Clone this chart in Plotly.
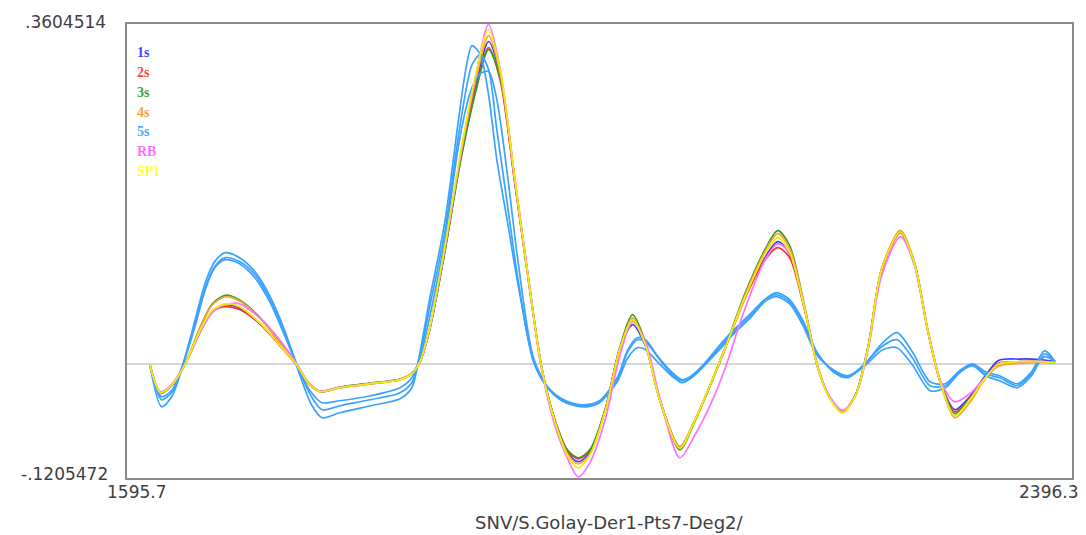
import plotly.graph_objects as go

# ---------------- data ----------------
x_min, x_max = 1595.7, 2396.3
y_min, y_max = -0.1205472, 0.3604514
x_title = "SNV/S.Golay-Der1-Pts7-Deg2/"

groups = ["1s", "2s", "3s", "4s", "5s", "RB", "SP1"]
legend_colors = ["#4646ff", "#ff4646", "#38a838", "#ffa040", "#46aaff", "#ff6cff", "#ffff30"]
line_colors = ["#3c3cff", "#ff3030", "#2e9e2e", "#ffa030", "#3aa2ff", "#ff70ff", "#f2ee00"]

wl = [1615, 1624, 1634, 1645, 1658, 1668, 1679, 1691, 1708, 1725,
      1740, 1749, 1759, 1776, 1802, 1827, 1837, 1844, 1852, 1865,
      1878, 1891, 1902, 1912, 1924, 1937, 1947, 1958, 1969, 1978,
      1988, 2001, 2013, 2024, 2035, 2047, 2064, 2077, 2090, 2102,
      2119, 2136, 2147, 2157, 2170, 2181, 2191, 2202, 2213, 2224,
      2235, 2251, 2263, 2274, 2285, 2297, 2310, 2323, 2334, 2352,
      2369, 2382]

s_1s = [0.0000, -0.0302, -0.0217, 0.0000, 0.0350, 0.0560, 0.0630, 0.0595, 0.0435, 0.0207,
        -0.0016, -0.0196, -0.0292, -0.0249, -0.0207, -0.0164, -0.0101, 0.0027, 0.0366, 0.1214,
        0.2168, 0.2950, 0.3419, 0.3050, 0.1956, 0.0790, -0.0037, -0.0588, -0.0935, -0.1033,
        -0.0935, -0.0482, 0.0154, 0.0420, 0.0190, -0.0376, -0.0875, -0.0588, -0.0217, 0.0154,
        0.0705, 0.1130, 0.1299, 0.1170, 0.0578, -0.0037, -0.0355, -0.0504, -0.0323, 0.0207,
        0.1002, 0.1394, 0.1055, 0.0366, -0.0196, -0.0482, -0.0340, -0.0120, 0.0040, 0.0055,
        0.0050, 0.0030]

s_2s = [0.0000, -0.0295, -0.0212, 0.0005, 0.0355, 0.0555, 0.0610, 0.0580, 0.0430, 0.0200,
        -0.0020, -0.0200, -0.0288, -0.0245, -0.0203, -0.0160, -0.0098, 0.0030, 0.0360, 0.1200,
        0.2150, 0.2900, 0.3355, 0.3000, 0.1940, 0.0780, -0.0040, -0.0585, -0.0920, -0.1002,
        -0.0915, -0.0475, 0.0160, 0.0470, 0.0215, -0.0370, -0.0880, -0.0590, -0.0220, 0.0150,
        0.0690, 0.1100, 0.1235, 0.1130, 0.0560, -0.0040, -0.0350, -0.0500, -0.0320, 0.0210,
        0.1000, 0.1390, 0.1050, 0.0360, -0.0200, -0.0504, -0.0355, -0.0140, 0.0010, 0.0020,
        0.0030, 0.0020]

s_3s = [0.0000, -0.0310, -0.0220, 0.0000, 0.0400, 0.0640, 0.0731, 0.0680, 0.0500, 0.0240,
        -0.0010, -0.0190, -0.0285, -0.0242, -0.0200, -0.0158, -0.0095, 0.0030, 0.0360, 0.1190,
        0.2130, 0.2880, 0.3334, 0.3030, 0.1980, 0.0800, -0.0030, -0.0580, -0.0910, -0.0991,
        -0.0905, -0.0470, 0.0170, 0.0525, 0.0230, -0.0380, -0.0906, -0.0600, -0.0215, 0.0160,
        0.0740, 0.1210, 0.1415, 0.1260, 0.0600, -0.0030, -0.0350, -0.0504, -0.0320, 0.0215,
        0.1010, 0.1415, 0.1070, 0.0370, -0.0190, -0.0525, -0.0360, -0.0143, 0.0000, 0.0027,
        0.0027, 0.0016]

s_4s = [0.0000, -0.0305, -0.0215, 0.0003, 0.0395, 0.0630, 0.0715, 0.0670, 0.0490, 0.0230,
        -0.0012, -0.0195, -0.0290, -0.0250, -0.0210, -0.0165, -0.0100, 0.0025, 0.0370, 0.1230,
        0.2190, 0.3000, 0.3482, 0.3070, 0.1970, 0.0790, -0.0040, -0.0595, -0.0950, -0.1055,
        -0.0950, -0.0490, 0.0150, 0.0493, 0.0210, -0.0380, -0.0880, -0.0585, -0.0210, 0.0160,
        0.0720, 0.1190, 0.1383, 0.1230, 0.0590, -0.0040, -0.0360, -0.0515, -0.0330, 0.0200,
        0.1010, 0.1415, 0.1060, 0.0360, -0.0210, -0.0567, -0.0400, -0.0150, -0.0020, 0.0010,
        0.0020, 0.0020]

s_rb = [0.0000, -0.0290, -0.0210, 0.0000, 0.0350, 0.0550, 0.0630, 0.0640, 0.0493, 0.0260,
        -0.0005, -0.0190, -0.0285, -0.0245, -0.0205, -0.0162, -0.0100, 0.0027, 0.0370, 0.1230,
        0.2200, 0.3050, 0.3599, 0.3120, 0.2000, 0.0800, -0.0060, -0.0640, -0.1000, -0.1193,
        -0.1040, -0.0580, 0.0080, 0.0450, 0.0240, -0.0350, -0.0991, -0.0747, -0.0429, -0.0058,
        0.0580, 0.1100, 0.1277, 0.1180, 0.0580, -0.0037, -0.0340, -0.0490, -0.0330, 0.0180,
        0.0940, 0.1352, 0.1040, 0.0370, -0.0180, -0.0398, -0.0310, -0.0140, 0.0000, 0.0027,
        0.0027, 0.0016]

s_sp1 = [0.0000, -0.0300, -0.0215, 0.0000, 0.0370, 0.0570, 0.0640, 0.0610, 0.0440, 0.0205,
         -0.0016, -0.0196, -0.0290, -0.0248, -0.0206, -0.0163, -0.0101, 0.0030, 0.0380, 0.1250,
         0.2220, 0.3060, 0.3546, 0.3110, 0.1990, 0.0790, -0.0040, -0.0600, -0.0970, -0.1097,
         -0.0960, -0.0490, 0.0150, 0.0470, 0.0200, -0.0380, -0.0890, -0.0590, -0.0215, 0.0155,
         0.0700, 0.1160, 0.1341, 0.1190, 0.0575, -0.0040, -0.0360, -0.0510, -0.0325, 0.0205,
         0.1005, 0.1400, 0.1060, 0.0365, -0.0200, -0.0546, -0.0370, -0.0145, 0.0000, 0.0027,
         0.0027, 0.0016]

wl_5s = [1615, 1625, 1634, 1642, 1653, 1662, 1670, 1679, 1691, 1704,
         1717, 1730, 1742, 1752, 1761, 1776, 1802, 1827, 1837, 1844,
         1852, 1865, 1876, 1883, 1888, 1895, 1902, 1909, 1918, 1927,
         1940, 1952, 1964, 1975, 1985, 1996, 2011, 2020, 2028, 2035,
         2045, 2057, 2066, 2074, 2084, 2096, 2109, 2124, 2136, 2146,
         2157, 2168, 2180, 2194, 2206, 2219, 2236, 2248, 2261, 2276,
         2289, 2301, 2312, 2323, 2335, 2350, 2362, 2373, 2382]

s_5s_a = [0.0000, -0.0451, -0.0334, -0.0058, 0.0451, 0.0864, 0.1087, 0.1182, 0.1129, 0.0981,
          0.0716, 0.0334, -0.0111, -0.0429, -0.0567, -0.0514, -0.0440, -0.0366, -0.0249, 0.0133,
          0.0684, 0.1511, 0.2539, 0.3143, 0.3376, 0.3281, 0.2857, 0.2168, 0.1511, 0.0843,
          0.0048, -0.0249, -0.0376, -0.0429, -0.0440, -0.0398, -0.0164, 0.0133, 0.0260, 0.0239,
          0.0080, -0.0101, -0.0175, -0.0133, -0.0016, 0.0154, 0.0334, 0.0514, 0.0684, 0.0758,
          0.0684, 0.0472, 0.0133, -0.0080, -0.0143, -0.0027, 0.0228, 0.0334, 0.0133, -0.0186,
          -0.0207, -0.0069, 0.0005, -0.0080, -0.0122, -0.0207, -0.0080, 0.0143, 0.0027]

s_5s_b = [0.0000, -0.0345, -0.0270, -0.0037, 0.0419, 0.0811, 0.1034, 0.1129, 0.1087, 0.0949,
          0.0684, 0.0313, -0.0080, -0.0345, -0.0482, -0.0440, -0.0376, -0.0302, -0.0196, 0.0101,
          0.0599, 0.1405, 0.2380, 0.2910, 0.3175, 0.3281, 0.3122, 0.2486, 0.1691, 0.0896,
          0.0027, -0.0249, -0.0387, -0.0440, -0.0451, -0.0408, -0.0186, 0.0069, 0.0175, 0.0154,
          0.0027, -0.0122, -0.0196, -0.0143, -0.0027, 0.0133, 0.0313, 0.0493, 0.0663, 0.0716,
          0.0641, 0.0419, 0.0101, -0.0058, -0.0122, -0.0037, 0.0154, 0.0175, -0.0005, -0.0281,
          -0.0249, -0.0090, -0.0016, -0.0122, -0.0175, -0.0249, -0.0122, 0.0111, 0.0027]

s_5s_c = [0.0000, -0.0376, -0.0292, -0.0048, 0.0387, 0.0790, 0.1023, 0.1108, 0.1065, 0.0917,
          0.0652, 0.0281, -0.0080, -0.0302, -0.0408, -0.0387, -0.0334, -0.0249, -0.0143, 0.0069,
          0.0493, 0.1320, 0.2274, 0.2719, 0.2931, 0.3079, 0.3101, 0.2804, 0.2009, 0.1087,
          0.0069, -0.0239, -0.0366, -0.0419, -0.0429, -0.0387, -0.0143, 0.0154, 0.0281, 0.0260,
          0.0090, -0.0080, -0.0164, -0.0122, -0.0005, 0.0175, 0.0355, 0.0535, 0.0684, 0.0737,
          0.0663, 0.0451, 0.0111, -0.0069, -0.0133, -0.0016, 0.0196, 0.0260, 0.0069, -0.0228,
          -0.0228, -0.0080, -0.0005, -0.0101, -0.0143, -0.0228, -0.0101, 0.0080, 0.0027]

series = [
    ("1s", wl, s_1s),
    ("2s", wl, s_2s),
    ("3s", wl, s_3s),
    ("4s", wl, s_4s),
    ("5s", wl_5s, s_5s_a),
    ("5s", wl_5s, s_5s_b),
    ("5s", wl_5s, s_5s_c),
    ("RB", wl, s_rb),
    ("SP1", wl, s_sp1),
]

# ---------------- figure ----------------
fig = go.Figure()
for name, xs, ys in series:
    c = line_colors[groups.index(name)]
    fig.add_trace(go.Scatter(
        x=xs, y=ys, mode="lines", name=name, showlegend=False,
        line=dict(color=c, width=1.7, shape="spline", smoothing=0.8),
        hoverinfo="skip",
    ))

# page body has an 8px margin, so the figure is sized/offset accordingly
W, H = 1078, 527
L, R, T, B = 119, 14, 16, 57
pw, ph = W - L - R, H - T - B

def fmt_y(v):
    s = f"{v:.7f}"
    return s.replace("0.", ".", 1)

lab_font = dict(family="DejaVu Sans", size=17, color="#404040")
ann = [
    dict(text=fmt_y(y_max), xref="paper", yref="paper", x=-19 / pw, y=1 + 2 / ph,
         xanchor="right", yanchor="middle", showarrow=False, font=lab_font),
    dict(text=fmt_y(y_min), xref="paper", yref="paper", x=-17 / pw, y=1 - 450 / ph,
         xanchor="right", yanchor="middle", showarrow=False, font=lab_font),
    dict(text=f"{x_min:.1f}", xref="paper", yref="paper", x=9 / pw, y=1 - 468 / ph,
         xanchor="center", yanchor="middle", showarrow=False, font=lab_font),
    dict(text=f"{x_max:.1f}", xref="paper", yref="paper", x=1 + 8 / pw, y=1 - 468 / ph,
         xanchor="right", yanchor="middle", showarrow=False, font=lab_font),
    dict(text=x_title, xref="paper", yref="paper", x=0.511, y=1 - 498 / ph,
         xanchor="center", yanchor="middle", showarrow=False,
         font=dict(family="DejaVu Sans", size=18, color="#404040")),
]
for i, g in enumerate(groups):
    ann.append(dict(text=f"<b>{g}</b>", xref="paper", yref="paper",
                    x=8 / pw, y=1 - (29 + 19.7 * i) / ph,
                    xanchor="left", yanchor="middle", showarrow=False,
                    font=dict(family="Liberation Serif", size=14, color=legend_colors[i])))

fig.update_layout(
    width=W, height=H,
    margin=dict(l=L, r=R, t=T, b=B, pad=0),
    paper_bgcolor="white", plot_bgcolor="white",
    showlegend=False,
    annotations=ann,
)
fig.update_xaxes(range=[x_min, x_max], showgrid=False, zeroline=False,
                 showticklabels=False, ticks="", showline=True, mirror=True,
                 linecolor="#8a8a8a", linewidth=2)
fig.update_yaxes(range=[y_min, y_max], showgrid=False, zeroline=True,
                 zerolinecolor="#d6d6d6", zerolinewidth=2,
                 showticklabels=False, ticks="", showline=True, mirror=True,
                 linecolor="#8a8a8a", linewidth=2)

fig.write_html("out.html")
